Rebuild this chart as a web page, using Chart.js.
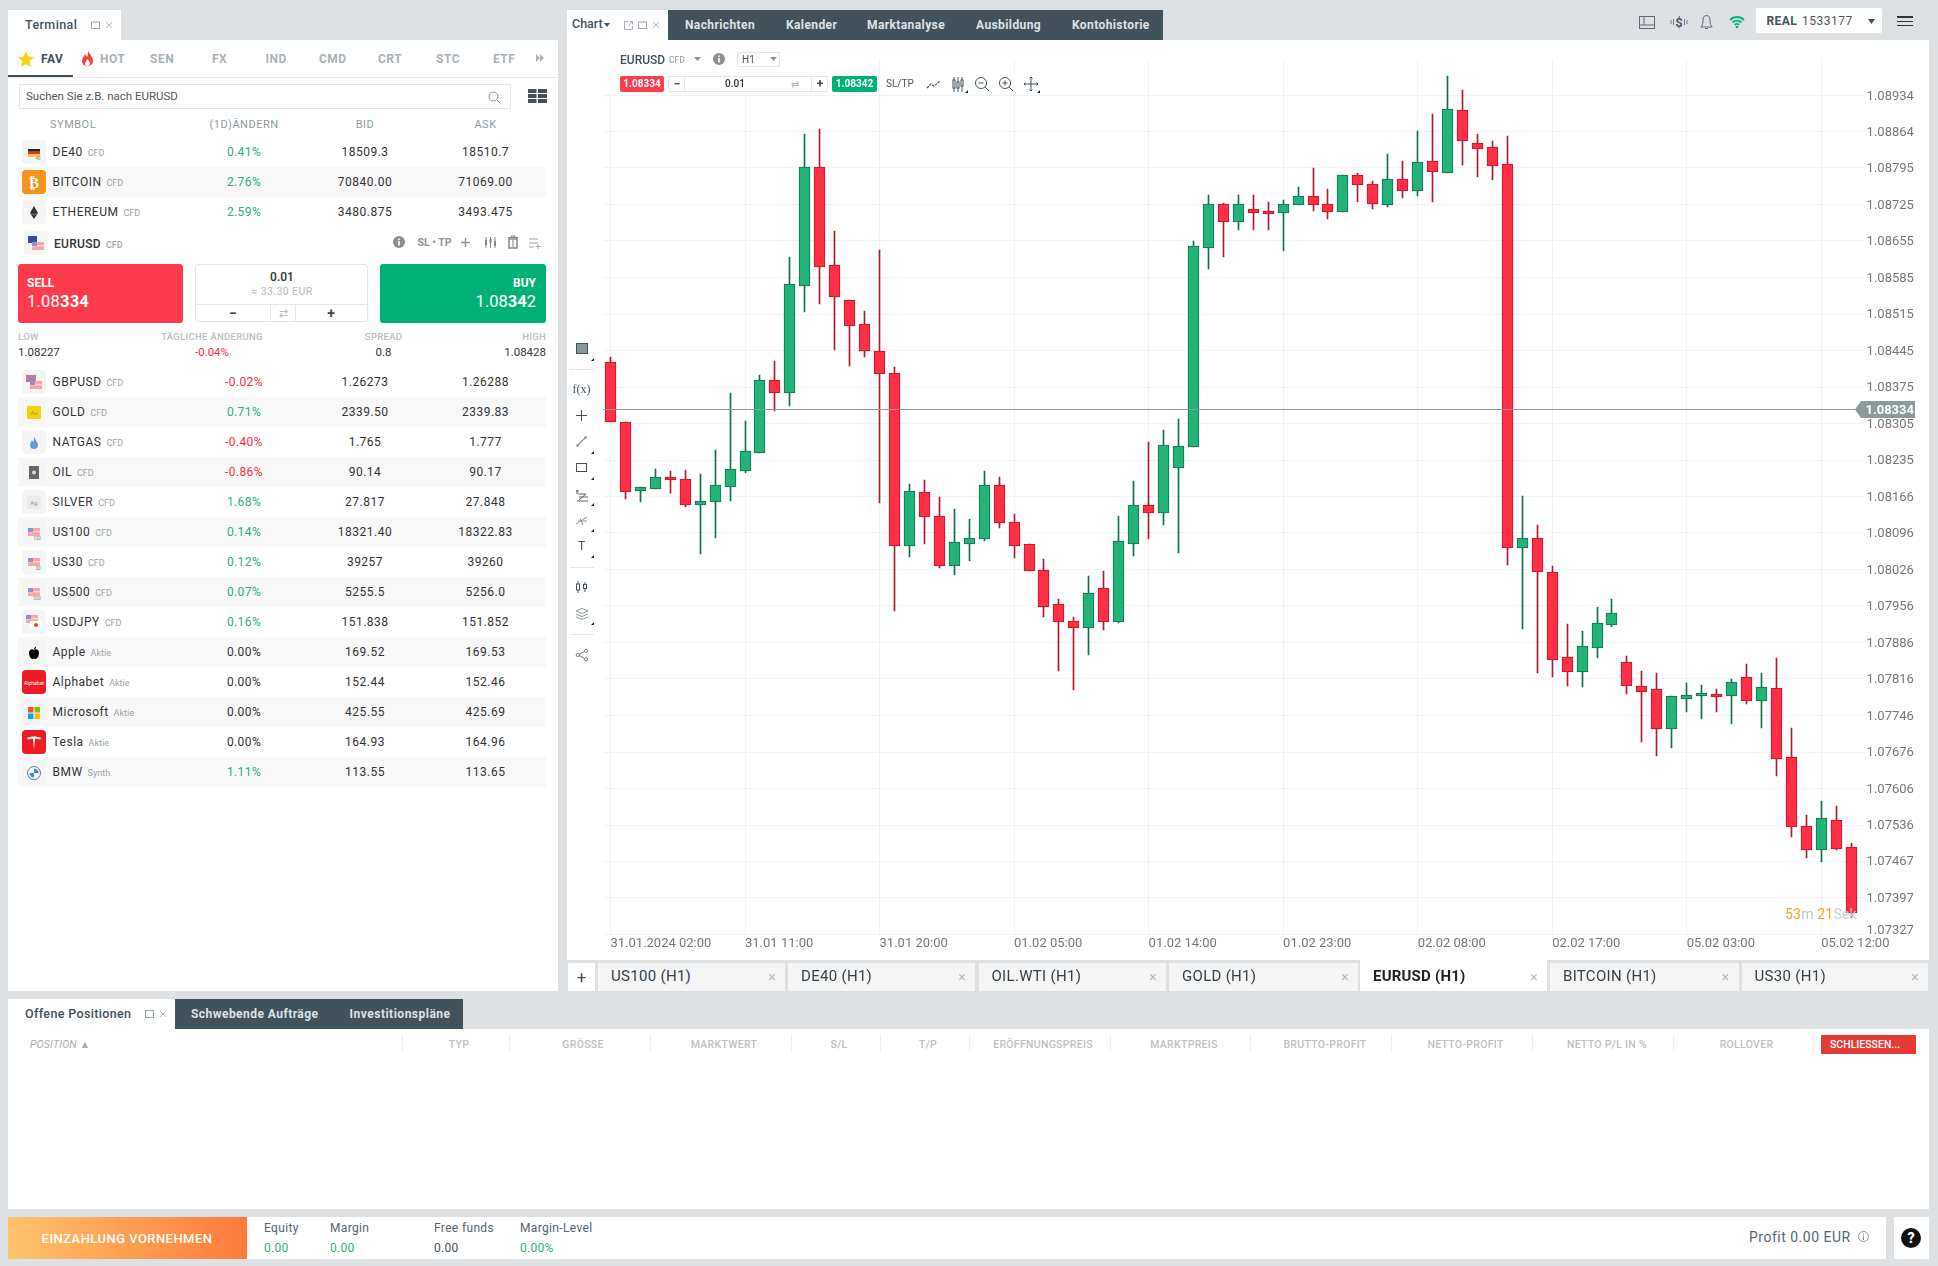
<!DOCTYPE html>
<html>
<head>
<meta charset="utf-8">
<title>EURUSD Terminal</title>
<script src="https://cdn.jsdelivr.net/npm/chart.js@4"></script>
<style>
html, body { margin: 0; padding: 0; background: #dde1e4; }
#root { position: relative; width: 1938px; height: 1266px; overflow: hidden; font-family: Roboto, sans-serif; color: #333; }
.t { position: absolute; white-space: nowrap; line-height: 1; }
.b { position: absolute; box-sizing: border-box; }
.tag { font-size: 9px; color: #9aa5aa; margin-left: 5px; letter-spacing: 0; }
svg { position: absolute; overflow: visible; }
canvas { position: absolute; left: 568px; top: 40px; }
</style>
</head>
<body>
<div id="root"></div>
<script>
// chart data
const categories = [
    "31.01 02:00","31.01 03:00","31.01 04:00","31.01 05:00","31.01 06:00","31.01 07:00","31.01 08:00","31.01 09:00","31.01 10:00","31.01 11:00","31.01 12:00",
    "31.01 13:00","31.01 14:00","31.01 15:00","31.01 16:00","31.01 17:00","31.01 18:00","31.01 19:00","31.01 20:00","31.01 21:00","31.01 22:00","31.01 23:00",
    "01.02 00:00","01.02 01:00","01.02 02:00","01.02 03:00","01.02 04:00","01.02 05:00","01.02 06:00","01.02 07:00","01.02 08:00","01.02 09:00","01.02 10:00","01.02 11:00",
    "01.02 12:00","01.02 13:00","01.02 14:00","01.02 15:00","01.02 16:00","01.02 17:00","01.02 18:00","01.02 19:00","01.02 20:00","01.02 21:00","01.02 22:00","01.02 23:00",
    "02.02 00:00","02.02 01:00","02.02 02:00","02.02 03:00","02.02 04:00","02.02 05:00","02.02 06:00","02.02 07:00","02.02 08:00","02.02 09:00","02.02 10:00","02.02 11:00",
    "02.02 12:00","02.02 13:00","02.02 14:00","02.02 15:00","02.02 16:00","02.02 17:00","02.02 18:00","02.02 19:00","02.02 20:00","02.02 21:00","02.02 22:00",
    "05.02 00:00","05.02 01:00","05.02 02:00","05.02 03:00","05.02 04:00","05.02 05:00","05.02 06:00","05.02 07:00","05.02 08:00","05.02 09:00","05.02 10:00","05.02 11:00",
    "05.02 12:00","05.02 13:00","05.02 14:00"
];
const opens = [
    1.08424,1.08308,1.08177,1.08180,1.08202,1.08199,1.08150,1.08155,1.08183,1.08215,1.08249,1.08388,1.08364,1.08569,
    1.08796,1.08608,1.08541,1.08495,1.08444,1.08403,1.08071,1.08175,1.08129,1.08033,1.08075,1.08085,1.08188,1.08116,
    1.08074,1.08024,1.07959,1.07928,1.07913,1.07990,1.07926,1.08075,1.08149,1.08133,1.08221,1.08260,1.08642,1.08725,
    1.08692,1.08716,1.08712,1.08709,1.08723,1.08741,1.08725,1.08711,1.08781,1.08765,1.08724,1.08773,1.08751,1.08808,
    1.08786,1.08905,1.08842,1.08834,1.08802,1.08067,1.08087,1.08020,1.07858,1.07830,1.07876,1.07920,1.07848,1.07802,
    1.07796,1.07721,1.07778,1.07784,1.07787,1.07784,1.07819,1.07774,1.07798,1.07666,1.07534,1.07489,1.07545,1.07494
];
const highs = [
    1.08432,1.08308,1.08183,1.08218,1.08214,1.08216,1.08209,1.08254,1.08363,1.08310,1.08398,1.08425,1.08624,1.08860,
    1.08869,1.08674,1.08541,1.08521,1.08638,1.08414,1.08189,1.08197,1.08165,1.08142,1.08122,1.08214,1.08203,1.08132,
    1.08074,1.08045,1.07969,1.07935,1.08013,1.08023,1.08128,1.08195,1.08270,1.08292,1.08314,1.08655,1.08743,1.08727,
    1.08743,1.08743,1.08730,1.08733,1.08758,1.08795,1.08755,1.08781,1.08785,1.08769,1.08822,1.08808,1.08866,1.08898,
    1.08971,1.08944,1.08860,1.08846,1.08856,1.08166,1.08111,1.08032,1.07921,1.07908,1.07954,1.07969,1.07860,1.07831,
    1.07827,1.07783,1.07808,1.07805,1.07797,1.07816,1.07845,1.07827,1.07856,1.07722,1.07555,1.07582,1.07573,1.07501
];
const lows = [
    1.08309,1.08160,1.08155,1.08179,1.08172,1.08146,1.08056,1.08086,1.08157,1.08211,1.08249,1.08330,1.08339,1.08519,
    1.08534,1.08446,1.08415,1.08433,1.08154,1.07946,1.08050,1.08075,1.08029,1.08015,1.08042,1.08081,1.08105,1.08048,
    1.08022,1.07935,1.07831,1.07795,1.07862,1.07910,1.07923,1.08051,1.08084,1.08111,1.08058,1.08260,1.08602,1.08624,
    1.08676,1.08676,1.08676,1.08636,1.08723,1.08712,1.08697,1.08711,1.08730,1.08716,1.08720,1.08737,1.08741,1.08730,
    1.08786,1.08800,1.08777,1.08772,1.08034,1.07912,1.07827,1.07820,1.07803,1.07801,1.07856,1.07916,1.07787,1.07695,
    1.07669,1.07684,1.07753,1.07739,1.07753,1.07730,1.07768,1.07722,1.07630,1.07513,1.07473,1.07465,1.07489,1.07358
];
const closes = [
    1.08309,1.08175,1.08183,1.08202,1.08198,1.08150,1.08156,1.08187,1.08218,1.08252,1.08388,1.08364,1.08572,1.08796,
    1.08606,1.08548,1.08493,1.08445,1.08401,1.08070,1.08177,1.08127,1.08033,1.08078,1.08087,1.08188,1.08114,1.08071,
    1.08022,1.07954,1.07926,1.07913,1.07980,1.07926,1.08080,1.08149,1.08133,1.08265,1.08262,1.08645,1.08725,1.08692,
    1.08725,1.08709,1.08707,1.08725,1.08742,1.08723,1.08711,1.08781,1.08763,1.08726,1.08773,1.08751,1.08806,1.08788,
    1.08907,1.08847,1.08832,1.08799,1.08067,1.08087,1.08020,1.07853,1.07830,1.07879,1.07923,1.07942,1.07803,1.07792,
    1.07721,1.07783,1.07785,1.07789,1.07782,1.07810,1.07774,1.07800,1.07663,1.07533,1.07489,1.07549,1.07491,1.07367
];
const yTicks = [1.08934,1.08864,1.08795,1.08725,1.08655,1.08585,1.08515,1.08445,1.08375,1.08305,1.08235,1.08166,1.08096,1.08026,1.07956,1.07886,1.07816,1.07746,1.07676,1.07606,1.07536,1.07467,1.07397,1.07327];
const xTickLabels = ["31.01.2024 02:00","31.01 11:00","31.01 20:00","01.02 05:00","01.02 14:00","01.02 23:00","02.02 08:00","02.02 17:00","05.02 03:00","05.02 12:00"];
const currentPrice = 1.08334;

// watchlist data
const topSymbols = ["DE40","BITCOIN","ETHEREUM"];
const topChanges = ["0.41%","2.76%","2.59%"];
const topBids = ["18509.3","70840.00","3480.875"];
const topAsks = ["18510.7","71069.00","3493.475"];
const symbols = ["GBPUSD","GOLD","NATGAS","OIL","SILVER","US100","US30","US500","USDJPY","Apple","Alphabet","Microsoft","Tesla","BMW"];
const kinds = ["CFD","CFD","CFD","CFD","CFD","CFD","CFD","CFD","CFD","Aktie","Aktie","Aktie","Aktie","Synth."];
const changes = ["-0.02%","0.71%","-0.40%","-0.86%","1.68%","0.14%","0.12%","0.07%","0.16%","0.00%","0.00%","0.00%","0.00%","1.11%"];
const bids = ["1.26273","2339.50","1.765","90.14","27.817","18321.40","39257","5255.5","151.838","169.52","152.44","425.55","164.93","113.55"];
const asks = ["1.26288","2339.83","1.777","90.17","27.848","18322.83","39260","5256.0","151.852","169.53","152.46","425.69","164.96","113.65"];

const root = document.getElementById("root");

function box(x, y, w, h, css, html) {
    const el = document.createElement("div");
    el.className = "b";
    el.style.cssText = `left:${x}px;top:${y}px;width:${w}px;height:${h}px;${css || ""}`;
    if (html) el.innerHTML = html;
    root.appendChild(el);
    return el;
}

function txt(x, y, s, css, anchor) {
    const el = document.createElement("div");
    el.className = "t";
    const tx = anchor === "c" ? "-50%" : anchor === "r" ? "-100%" : "0";
    el.style.cssText = `left:${x}px;top:${y}px;transform:translate(${tx},-50%);${css || ""}`;
    el.innerHTML = s;
    root.appendChild(el);
    return el;
}

function icon(x, y, w, h, inner) {
    const ns = "http://www.w3.org/2000/svg";
    const el = document.createElementNS(ns, "svg");
    el.setAttribute("width", w);
    el.setAttribute("height", h);
    el.setAttribute("viewBox", `0 0 ${w} ${h}`);
    el.style.left = (x - w / 2) + "px";
    el.style.top = (y - h / 2) + "px";
    el.innerHTML = inner;
    root.appendChild(el);
}

// tiny corner triangle next to tools with a submenu
function corner(x, y) {
    icon(x, y, 3, 3, '<path d="M3 0V3H0Z" fill="#222"/>');
}

// panels
box(8, 10, 113, 30, "background:#fff");
box(8, 40, 550, 951, "background:#fff");
box(567, 10, 101, 30, "background:#fff");
box(668, 10, 495, 30, "background:#41525b");
box(567, 40, 1362, 920, "background:#fff");
box(8, 999, 167, 30, "background:#fff");
box(175, 999, 288, 30, "background:#41525b");
box(8, 1029, 1921, 180, "background:#fff");
box(8, 1217, 239, 42, "background:linear-gradient(90deg,#ffc36a,#ff7a3a)");
box(247, 1217, 1639, 42, "background:#fff");
box(1894, 1217, 35, 42, "background:#fff");

// left panel
txt(25, 25, "Terminal", "font-size:12.5px;font-weight:500;color:#41525b;letter-spacing:.4px");
icon(95.5, 25, 9, 8, '<rect x=".5" y="1" width="8" height="6.5" fill="none" stroke="#9aa"/>');
icon(109, 25, 8, 8, '<path d="M1 1L7 7M7 1L1 7" stroke="#bbb"/>');
icon(26, 59, 16, 16, '<polygon points="8,0 10.4,5.4 16,6.1 11.8,10 13,16 8,12.9 3,16 4.2,10 0,6.1 5.6,5.4" fill="#f7d21b"/>');
icon(87, 58, 11, 16, '<path d="M6 0C7 4 11 6 11 11C11 14 8.5 16 5.5 16C2.5 16 0 14 0 11C0 8 2 6.5 3 4C4 6 4.5 6.5 5 7C6 5 6.5 3 6 0Z" fill="#f4433c"/><path d="M5.5 9C7 11 8 12 8 13.5C8 15 6.5 16 5.5 16C4 16 3 15 3 13.5C3 12 4.5 11 5.5 9Z" fill="#fff"/>');
txt(41, 59, "FAV", "font-size:12px;font-weight:700;color:#41525b;letter-spacing:.5px");
const tabNames = ["HOT","SEN","FX","IND","CMD","CRT","STC","ETF"];
const tabXs = [100,150,212,265.5,319,378,436,493];
tabNames.forEach((n, i) => txt(tabXs[i], 59, n, "font-size:12px;font-weight:700;color:#a9b2b6;letter-spacing:.5px"));
icon(540, 58, 8, 8, '<path d="M0 0L4 4L0 8ZM4 0L8 4L4 8Z" fill="#a9b2b6"/>');
box(8, 77, 550, 1, "background:#e3e6e8");
box(8, 75, 65, 2, "background:#41525b");
box(19, 84, 492, 25, "border:1px solid #e4e6e8;background:#fff");
txt(26, 96.5, "Suchen Sie z.B. nach EURUSD", "font-size:11.5px;color:#555");
icon(494.5, 97, 13, 13, '<circle cx="5.5" cy="5.5" r="4.5" fill="none" stroke="#8a969b"/><path d="M9 9L12.5 12.5" stroke="#8a969b"/>');
icon(537.5, 96, 19, 14, '<path d="M0 0H8.5V4H0ZM10 0H19V4H10ZM0 5H8.5V9H0ZM10 5H19V9H10ZM0 10H8.5V14H0ZM10 10H19V14H10Z" fill="#41525b"/>');
txt(50, 124, "SYMBOL", "font-size:11px;color:#8f9a9f;letter-spacing:.5px");
txt(244, 124, "(1D)ÄNDERN", "font-size:11px;color:#8f9a9f;letter-spacing:.5px", "c");
txt(365, 124, "BID", "font-size:11px;color:#8f9a9f;letter-spacing:.5px", "c");
txt(485.5, 124, "ASK", "font-size:11px;color:#8f9a9f;letter-spacing:.5px", "c");

function symbolIcon(sym, x, y) {
    const filled = { BITCOIN: "#f7931a", Alphabet: "#ed1c24", Tesla: "#ed1c24" };
    box(x, y - 12, 24, 24, `background:${filled[sym] || "#f5f5f6"};border-radius:4px`);
    const cx = x + 12;
    const usFlag = (fx, fy) => `<rect x="${fx}" y="${fy}" width="12" height="8" fill="#f9a4a8"/><rect x="${fx}" y="${fy + 3}" width="12" height="1.4" fill="#fbd6d8"/><rect x="${fx}" y="${fy}" width="5" height="4" fill="#8c93c8"/>`;
    const art = {
        DE40: '<rect x="0" y="1" width="12" height="2.7" fill="#222"/><rect x="0" y="3.7" width="12" height="2.7" fill="#e8332a"/><rect x="0" y="6.4" width="12" height="2.7" fill="#f9d12a"/><text x="10" y="12" text-anchor="middle" font-size="4.5" fill="#888">40</text>',
        BITCOIN: '<text x="6" y="10" text-anchor="middle" font-size="15" font-weight="700" font-family="Roboto" fill="#fff">₿</text>',
        ETHEREUM: '<polygon points="6,-2 10,5 6,11 2,5" fill="#333"/><path d="M2 5L6 7L10 5" stroke="#aaa" fill="none" stroke-width=".6"/>',
        EURUSD: '<rect x="-2" y="-3" width="9" height="7" fill="#3b4aa6"/>' + usFlag(2, 3),
        GBPUSD: '<rect x="-2" y="-3" width="10" height="7" fill="#8c93c8"/><path d="M-2 -3L8 4M8 -3L-2 4" stroke="#e66" stroke-width="1.2"/>' + usFlag(2, 3),
        GOLD: '<rect x="-1" y="-2" width="14" height="13" rx="1" fill="#f5d00f"/><text x="6" y="7" text-anchor="middle" font-size="6" fill="#b8940a">Au</text>',
        NATGAS: '<path d="M6 -2C7 2 10 4 10 7C10 10 8 11 6 11C4 11 2 10 2 7C2 5 3 4 4 2C4.500 3 5 3.500 5.500 4C6 2 6.300 0 6 -2Z" fill="#6c93e0"/>',
        OIL: '<rect x="1" y="-2" width="10" height="13" fill="#666"/><circle cx="6" cy="4.500" r="2" fill="#ddd"/>',
        SILVER: '<rect x="-1" y="-2" width="14" height="13" rx="1" fill="#ebebeb"/><text x="6" y="7" text-anchor="middle" font-size="6" fill="#999">Ag</text>',
        US100: usFlag(0, 0) + '<text x="9" y="12" text-anchor="middle" font-size="4.500" fill="#888">100</text>',
        US30: usFlag(0, 0) + '<text x="10" y="12" text-anchor="middle" font-size="4.500" fill="#888">30</text>',
        US500: usFlag(0, 0) + '<text x="9" y="12" text-anchor="middle" font-size="4.500" fill="#888">500</text>',
        USDJPY: usFlag(-2, -3) + '<rect x="2" y="3" width="12" height="8" fill="#fff"/><circle cx="8" cy="7" r="2" fill="#f33"/>',
        Apple: '<path d="M6 2C4 .5 1 1.500 1 5C1 8 3 11 4.500 11C5.200 11 5.500 10.500 6 10.500C6.500 10.500 6.800 11 7.500 11C9 11 11 8 11 5C11 1.500 8 .5 6 2ZM6 1.500C6 0 7 -1 8 -1.500C8.300 0 7.500 1.200 6 1.500Z" fill="#000"/>',
        Alphabet: '<text x="6" y="6.500" text-anchor="middle" font-size="5" fill="#fff">Alphabet</text>',
        Microsoft: '<rect x="0" y="-1" width="5.500" height="5.500" fill="#f35325"/><rect x="6.500" y="-1" width="5.500" height="5.500" fill="#81bc06"/><rect x="0" y="5.500" width="5.500" height="5.500" fill="#05a6f0"/><rect x="6.500" y="5.500" width="5.500" height="5.500" fill="#ffba08"/>',
        Tesla: '<path d="M-1 0C3 -2 9 -2 13 0L12 1.500C10 1 8.500 .8 7 .7L6 12L5 .7C3.500 .8 2 1 0 1.500Z" fill="#fff"/>',
        BMW: '<circle cx="6" cy="5" r="6.500" fill="#fff" stroke="#456" stroke-width=".8"/><path d="M6 5V0.500A4.500 4.500 0 0 1 10.500 5ZM6 5V9.500A4.500 4.500 0 0 1 1.500 5Z" fill="#3a8fd6"/>'
    };
    icon(cx, y, 12, 9, `<g>${art[sym] || ""}</g>`);
}

function nameHtml(name, kind) {
    return `${name}<span class="tag">${kind}</span>`;
}

function drawRow(sym, kind, chg, bid, ask, y, stripe) {
    if (stripe) box(18, y - 15, 528, 30, "background:#f8f8f8");
    symbolIcon(sym, 22, y);
    txt(52.5, y, nameHtml(sym, kind), "font-size:12px;color:#333;letter-spacing:.5px");
    const color = chg.startsWith("-") ? "#ff2a3a" : chg === "0.00%" ? "#333" : "#25b07c";
    txt(244, y, chg, `font-size:12px;letter-spacing:.4px;color:${color}`, "c");
    txt(365, y, bid, "font-size:12px;letter-spacing:.5px;color:#333", "c");
    txt(485.5, y, ask, "font-size:12px;letter-spacing:.5px;color:#333", "c");
}

topSymbols.forEach((s, i) => drawRow(s, "CFD", topChanges[i], topBids[i], topAsks[i], 152 + i * 30, i === 1));
symbols.forEach((s, i) => drawRow(s, kinds[i], changes[i], bids[i], asks[i], 382 + i * 30, i % 2 === 1));

// eurusd trade box
symbolIcon("EURUSD", 24, 243);
txt(54, 243.5, nameHtml("EURUSD", "CFD"), "font-size:12px;font-weight:500;color:#333;letter-spacing:.3px");
icon(399, 242, 12, 12, '<circle cx="6" cy="6" r="6" fill="#8a8f92"/><rect x="5.200" y="5" width="1.600" height="4.500" fill="#fff"/><rect x="5.200" y="2.500" width="1.600" height="1.600" fill="#fff"/>');
txt(417.5, 242.5, "SL • TP", "font-size:10.5px;font-weight:700;color:#8a969b");
icon(465, 242, 9, 9, '<path d="M4.500 0V9M0 4.500H9" stroke="#8a969b" stroke-width="1.500"/>');
icon(490, 242, 13, 11, '<path d="M2 0V11M6.500 0V11M11 0V11" stroke="#7d898e"/><rect x="1" y="3" width="2" height="5" fill="#7d898e"/><rect x="5.500" y="2" width="2" height="4" fill="#7d898e"/><rect x="10" y="4" width="2" height="5" fill="#7d898e"/>');
icon(513, 242, 10, 12, '<path d="M0 1.500H10M3 1.500V0H7V1.500" stroke="#7d898e" fill="none"/><path d="M1 3H9V12H1Z" fill="none" stroke="#7d898e" stroke-width="1.500"/><path d="M5 4V11" stroke="#7d898e"/>');
icon(535, 243, 12, 11, '<path d="M0 1H9M0 5H9M0 9H5M9 6V11M6.500 8.500H12" stroke="#9aa5aa"/>');

box(18, 264, 165, 59, "background:#fc3b4d;border-radius:3px");
txt(27, 282.5, "SELL", "font-size:12px;font-weight:700;color:#fff");
txt(27, 302, "1.08<b>334</b>", "font-size:16.5px;color:#fff;letter-spacing:.2px");
box(195, 264, 173, 58, "border:1px solid #e4e6e8;border-radius:3px;background:#fff");
txt(282, 277, "0.01", "font-size:12px;font-weight:500;color:#333", "c");
txt(282, 292, "≈ 33.30 EUR", "font-size:10.5px;color:#b6bcc0;letter-spacing:.4px", "c");
box(195, 304, 173, 1, "background:#e4e6e8");
box(270, 304, 1, 18, "background:#e4e6e8");
box(294.5, 304, 1, 18, "background:#e4e6e8");
txt(233, 313, "−", "font-size:14px;font-weight:700;color:#444", "c");
txt(283, 313, "⇄", "font-size:11px;color:#b6bcc0", "c");
txt(331, 313, "+", "font-size:14px;font-weight:700;color:#444", "c");
box(380, 264, 166, 59, "background:#00b176;border-radius:3px");
txt(536, 282.5, "BUY", "font-size:12px;font-weight:700;color:#fff", "r");
txt(536, 302, "1.08<b>34</b>2", "font-size:16.5px;color:#fff;letter-spacing:0", "r");

const smallHead = "font-size:9.5px;font-weight:500;color:#bcc0c3;letter-spacing:.3px";
txt(18, 337, "LOW", smallHead);
txt(212, 337, "TÄGLICHE ÄNDERUNG", smallHead, "c");
txt(383.6, 337, "SPREAD", smallHead, "c");
txt(546, 337, "HIGH", smallHead, "r");
txt(18, 353, "1.08227", "font-size:11.5px;color:#333");
txt(212, 353, "-0.04%", "font-size:11.5px;color:#ff2a3a", "c");
txt(383.6, 353, "0.8", "font-size:11.5px;color:#333", "c");
txt(546, 353, "1.08428", "font-size:11.5px;color:#333", "r");

// canvas sits above the panels
const canvas = document.createElement("canvas");
canvas.width = 1348;
canvas.height = 930;
canvas.style.width = "1348px";
canvas.style.height = "930px";
root.appendChild(canvas);

const upFill = "#23b277", downFill = "#ff3045";
const upEdge = "#0f7050", downEdge = "#b5182e";
const isUp = closes.map((c, i) => c >= opens[i]);
const lastTick = yTicks[yTicks.length - 1];

// snap bars to whole pixels so the wicks stay one pixel wide
const snapBars = {
    id: "snapBars",
    beforeDatasetDraw(chart, args) {
        chart.getDatasetMeta(args.index).data.forEach(b => {
            b.x = Math.floor(b.x) + 0.5;
            b.y = Math.round(b.y);
            b.base = Math.round(b.base);
        });
    }
};

const priceLine = {
    id: "priceLine",
    afterDatasetsDraw(chart) {
        const { ctx, chartArea, scales } = chart;
        const y = Math.round(scales.y.getPixelForValue(currentPrice)) + 0.5;
        const tip = 1855 - 568, right = 1915 - 568, left = 1861 - 568;
        ctx.save();
        ctx.strokeStyle = "#8c9a9c";
        ctx.lineWidth = 1;
        ctx.beginPath();
        ctx.moveTo(chartArea.left, y);
        ctx.lineTo(tip, y);
        ctx.stroke();
        ctx.fillStyle = "#8c9a9c";
        ctx.beginPath();
        ctx.moveTo(tip, y);
        ctx.lineTo(left, y - 8.5);
        ctx.lineTo(right, y - 8.5);
        ctx.lineTo(right, y + 8.5);
        ctx.lineTo(left, y + 8.5);
        ctx.closePath();
        ctx.fill();
        ctx.fillStyle = "#fff";
        ctx.font = "700 13px Roboto";
        ctx.textBaseline = "middle";
        ctx.textAlign = "right";
        ctx.fillText(currentPrice.toFixed(5), right - 1, y + 1);
        // the bottom tick label sits a little above its grid line
        ctx.fillStyle = "#777";
        ctx.font = "13px Roboto";
        ctx.textAlign = "left";
        ctx.fillText(lastTick.toFixed(5), scales.y.left + 8, scales.y.getPixelForValue(lastTick) - 4);
        ctx.restore();
    }
};

new Chart(canvas.getContext("2d"), {
    type: "bar",
    plugins: [snapBars, priceLine],
    data: {
        labels: categories,
        datasets: [
            {
                label: "Wick",
                data: lows.map((l, i) => [l, highs[i]]),
                backgroundColor: isUp.map(u => u ? upEdge : downEdge),
                barThickness: 1,
                grouped: false,
                order: 2
            },
            {
                label: "Body",
                data: opens.map((o, i) => [o, closes[i]]),
                backgroundColor: isUp.map(u => u ? upFill : downFill),
                borderColor: isUp.map(u => u ? upEdge : downEdge),
                borderWidth: 1,
                borderSkipped: false,
                barThickness: 11,
                grouped: false,
                order: 1
            }
        ]
    },
    options: {
        responsive: false,
        animation: false,
        events: [],
        layout: { padding: { left: 35, top: 19, right: 0, bottom: 0 } },
        plugins: { legend: { display: false }, tooltip: { enabled: false } },
        scales: {
            x: {
                type: "category",
                offset: true,
                afterBuildTicks: axis => { axis.ticks = axis.ticks.filter(t => t.value % 9 === 0); },
                afterFit: axis => { axis.height = 35.7; },
                border: { display: false },
                grid: { offset: false, color: "#f1f3f4", drawTicks: false },
                ticks: {
                    autoSkip: false,
                    maxRotation: 0,
                    align: "start",
                    padding: 2,
                    color: "#777",
                    font: { family: "Roboto", size: 13 },
                    callback: value => xTickLabels[value / 9]
                }
            },
            y: {
                position: "right",
                min: 1.07327,
                max: 1.090035,
                afterBuildTicks: axis => { axis.ticks = yTicks.map(v => ({ value: v })); },
                afterFit: axis => { axis.width = 57.4; },
                border: { display: false },
                grid: { color: "#f1f3f4", tickColor: "#f1f3f4", tickLength: 6 },
                ticks: {
                    autoSkip: false,
                    padding: 2,
                    labelOffset: 1,
                    color: "#777",
                    font: { family: "Roboto", size: 13 },
                    callback: value => value === lastTick ? "" : value.toFixed(5)
                }
            }
        }
    }
});

// chart header
txt(572, 23.5, "Chart", "font-size:12.5px;font-weight:500;color:#41525b");
icon(607, 25, 6, 4, '<path d="M0 0H6L3 4Z" fill="#41525b"/>');
icon(628.5, 25, 9, 9, '<path d="M4 .5H.5V8.500H8.500V5M4 5L8.500 .5M5.500 .5H8.500V3.500" fill="none" stroke="#aab"/>');
icon(642.5, 25, 9, 8, '<rect x=".5" y="1" width="8" height="6.500" fill="none" stroke="#9aa"/>');
icon(656, 25, 8, 8, '<path d="M1 1L7 7M7 1L1 7" stroke="#bbb"/>');
const navLabels = ["Nachrichten","Kalender","Marktanalyse","Ausbildung","Kontohistorie"];
const navXs = [685,786,867,976,1072];
navLabels.forEach((n, i) => txt(navXs[i], 24.5, n, "font-size:12px;font-weight:700;color:#dfe3e5;letter-spacing:.4px"));

icon(1647, 22, 16, 13, '<rect x=".5" y=".5" width="15" height="12" fill="none" stroke="#667"/><path d="M5 .5V9H15.500M.5 9H5" fill="none" stroke="#667"/>');
txt(1679, 22, "<b>$</b>", "font-size:13px;color:#556", "c");
icon(1679, 22, 18, 8, '<path d="M1 2V6M3.500 1V7M14.500 1V7M17 2V6" stroke="#778"/>');
icon(1706, 22, 13, 15, '<path d="M6.500 .5C3.500 .5 3 3 3 6C3 9 2 11 .8 12H12.200C11 11 10 9 10 6C10 3 9.500 .5 6.500 .5ZM5 13.500H8" fill="none" stroke="#667"/>');
icon(1737, 22, 16, 12, '<path d="M1 4C5 0 11 0 15 4M3.500 6.500C6 4 10 4 12.500 6.500M5.800 8.800C7 7.500 9 7.500 10.200 8.800" fill="none" stroke="#05b377" stroke-width="1.800"/><circle cx="8" cy="11" r="1.300" fill="#05b377"/>');
box(1756, 8, 126, 25, "background:#fff;border-radius:2px");
txt(1766.5, 20.5, "REAL", "font-size:12px;font-weight:700;color:#41525b;letter-spacing:.4px");
txt(1802, 20.5, "1533177", "font-size:12px;color:#555;letter-spacing:.5px");
icon(1871, 21, 7, 5, '<path d="M0 0H7L3.500 5Z" fill="#41525b"/>');
box(1897, 16, 16, 1.5, "background:#333");
box(1897, 20.5, 16, 1.5, "background:#333");
box(1897, 24.5, 16, 1.5, "background:#333");

// chart toolbar overlays the grid
box(603, 45, 179, 28, "background:#fff");
box(603, 73, 444, 22, "background:#fff");
txt(620, 59.5, "EURUSD", "font-size:12px;font-weight:500;color:#41525b");
txt(669, 60, "CFD", "font-size:8.5px;color:#8a969b");
icon(697, 59, 7, 4, '<path d="M0 0H7L3.500 4Z" fill="#8a969b"/>');
icon(719, 59, 12, 12, '<circle cx="6" cy="6" r="6" fill="#8a8f92"/><rect x="5.200" y="5" width="1.600" height="4.500" fill="#fff"/><rect x="5.200" y="2.500" width="1.600" height="1.600" fill="#fff"/>');
box(737, 52, 43, 15, "border:1px solid #e4e6e8;background:#fff");
txt(742, 60, "H1", "font-size:10px;color:#555");
icon(773, 59, 7, 4, '<path d="M0 0H7L3.500 4Z" fill="#8a969b"/>');
box(620, 76, 44, 16, "background:#fc3b4d;border-radius:2px");
txt(642, 84, "1.08334", "font-size:10px;font-weight:700;color:#fff", "c");
box(668, 76, 160, 16, "border:1px solid #e4e6e8;background:#fff");
box(684, 76, 1, 16, "background:#e4e6e8");
box(811, 76, 1, 16, "background:#e4e6e8");
txt(677, 84, "−", "font-size:12px;font-weight:700;color:#444", "c");
txt(735, 84, "0.01", "font-size:10px;font-weight:500;color:#333", "c");
txt(795, 85, "⇄", "font-size:10px;color:#b6bcc0", "c");
txt(820, 84, "+", "font-size:12px;font-weight:700;color:#444", "c");
box(832, 76, 45, 16, "background:#00b176;border-radius:2px");
txt(854.5, 84, "1.08342", "font-size:10px;font-weight:700;color:#fff", "c");
txt(886, 84, "SL/TP", "font-size:10px;color:#556");
icon(934, 84, 14, 9, '<path d="M0 8L4 4L7 6L13 1" fill="none" stroke="#41525b" stroke-dasharray="2.500 1" stroke-width="1.200"/>');
icon(958, 84, 12, 15, '<path d="M2 0V15M6 0V15M10 0V15" stroke="#41525b"/><rect x="1" y="3" width="2" height="8" fill="#fff" stroke="#41525b"/><rect x="5" y="5" width="2" height="6" fill="#fff" stroke="#41525b"/><rect x="9" y="3" width="2" height="6" fill="#fff" stroke="#41525b"/>');
corner(966.5, 91.5);
const zoomGlass = sym => `<circle cx="6" cy="6" r="5.500" fill="none" stroke="#41525b"/><path d="M10 10L14 14" stroke="#41525b"/><path d="${sym}" stroke="#41525b"/>`;
icon(981.5, 84, 14, 14, zoomGlass("M3.500 6H8.500"));
icon(1006, 84, 14, 14, zoomGlass("M3.500 6H8.500M6 3.500V8.500"));
icon(1030.5, 84, 14, 14, '<path d="M7 0V14M0 7H14M5.500 1.500L7 0L8.500 1.500M5.500 12.500L7 14L8.500 12.500M1.500 5.500L0 7L1.500 8.500M12.500 5.500L14 7L12.500 8.500" fill="none" stroke="#41525b"/>');
corner(1038.5, 91.5);

// left chart tools
icon(581.5, 348, 12, 11, '<rect x=".5" y=".5" width="11" height="10" fill="#8a969b" stroke="#41525b"/>');
corner(592.5, 359.5);
box(570, 369, 24, 1, "background:#e3e6e8");
txt(581.5, 389, "f(x)", "font-family:'Liberation Serif',serif;font-size:12px;color:#41525b", "c");
icon(581.5, 415, 11, 11, '<path d="M5.500 0V11M0 5.500H11" stroke="#41525b"/>');
icon(581.5, 441, 11, 11, '<path d="M1 10L10 1" stroke="#8a969b" stroke-width="1.200"/><circle cx="1.500" cy="9.500" r="1.300" fill="#8a969b"/><circle cx="9.500" cy="1.500" r="1.300" fill="#8a969b"/>');
corner(592.5, 452.5);
icon(581.5, 467, 11, 9, '<rect x=".5" y=".5" width="10" height="8" fill="none" stroke="#41525b"/>');
corner(592.5, 478.5);
icon(581.5, 495, 12, 11, '<path d="M1 0V4M0 1H3M3 10L10 4H2M3 7H12M1 11H12" fill="none" stroke="#41525b" stroke-width=".9"/>');
corner(592.5, 504.5);
icon(581.5, 520, 11, 9, '<path d="M0 8L11 1M2 5H11M4 2L7 9" fill="none" stroke="#8a969b"/>');
corner(592.5, 530.5);
txt(581.5, 546, "T", "font-size:12px;color:#41525b", "c");
corner(592.5, 556.5);
box(570, 566.5, 24, 1, "background:#e3e6e8");
icon(581.5, 587, 12, 12, '<path d="M2 0V12M9 1V11" stroke="#41525b"/><rect x=".5" y="3" width="3" height="6" fill="#fff" stroke="#41525b"/><rect x="7.500" y="3.500" width="3" height="4" fill="#fff" stroke="#41525b"/>');
icon(581.5, 613.5, 12, 12, '<path d="M6 .5L12 3L6 5.500L0 3ZM0 6L6 8.500L12 6M0 9L6 11.500L12 9" fill="none" stroke="#8a969b"/>');
corner(592.5, 623);
box(570, 633.5, 24, 1, "background:#e3e6e8");
icon(581.5, 654.5, 12, 12, '<circle cx="1.800" cy="6" r="1.600" fill="none" stroke="#778"/><circle cx="10" cy="1.800" r="1.600" fill="none" stroke="#778"/><circle cx="10" cy="10.200" r="1.600" fill="none" stroke="#778"/><path d="M3.200 5.300L8.600 2.600M3.200 6.700L8.600 9.400" stroke="#778"/>');

// countdown
txt(1785, 914, '<span style="color:#ff9d1e">53</span><span style="color:#bfc4c7">m </span><span style="color:#ff9d1e">21</span><span style="color:#c8ccce">Sek</span>', "font-size:14px;letter-spacing:.2px");

// instrument tabs
box(567.5, 963, 27.5, 28, "background:#fff");
txt(581.5, 977, "+", "font-size:17px;color:#41525b", "c");
const chartTabs = ["US100 (H1)","DE40 (H1)","OIL.WTI (H1)","GOLD (H1)","EURUSD (H1)","BITCOIN (H1)","US30 (H1)"];
const tabLefts = [598,788,978.5,1169,1360,1550,1741.5];
const tabRights = [785,975,1166,1358,1547,1738.5,1928];
chartTabs.forEach((n, i) => {
    const active = i === 4;
    const top = active ? 960 : 963;
    box(tabLefts[i], top, tabRights[i] - tabLefts[i], 991 - top, `background:${active ? "#fff" : "#f5f5f6"}`);
    txt(tabLefts[i] + 13, 976, n, `font-size:15px;letter-spacing:.3px;color:#33424b;${active ? "font-weight:700;color:#222;letter-spacing:.2px" : ""}`);
    txt(tabRights[i] - 13, 977, "×", "font-size:14px;color:#b9bdc0", "c");
});

// positions panel
txt(25, 1013.5, "Offene Positionen", "font-size:12.5px;font-weight:500;color:#41525b;letter-spacing:.35px");
icon(149, 1014, 9, 8, '<rect x=".5" y=".5" width="8" height="7" fill="none" stroke="#9aa"/>');
icon(163, 1014, 8, 8, '<path d="M1 1L7 7M7 1L1 7" stroke="#bbb"/>');
txt(191, 1013.5, "Schwebende Aufträge", "font-size:12px;font-weight:700;color:#dfe3e5;letter-spacing:.45px");
txt(349.5, 1013.5, "Investitionspläne", "font-size:12px;font-weight:700;color:#dfe3e5;letter-spacing:.5px");

const colLabels = ["TYP","GRÖSSE","MARKTWERT","S/L","T/P","ERÖFFNUNGSPREIS","MARKTPREIS","BRUTTO-PROFIT","NETTO-PROFIT","NETTO P/L IN %","ROLLOVER"];
const colCenters = [459,583,724,839,928,1043,1184,1325,1465.5,1607,1746.5];
const colLines = [402,509,650,791,880,968.5,1110,1250,1391,1532,1673,1813];
const headCss = "font-size:10.5px;font-weight:500;color:#bcc0c3;letter-spacing:.3px";
txt(30, 1044.5, "<i>POSITION</i> ▲", "font-size:10.5px;color:#a9aeb1;letter-spacing:.2px");
colLabels.forEach((n, i) => txt(colCenters[i], 1044.5, n, headCss, "c"));
colLines.forEach(x => box(x, 1035, 1, 16, "background:#eceeef"));
box(1821, 1035, 95, 19, "background:#e53935;border-radius:1px");
txt(1830, 1044.5, "SCHLIESSEN...", "font-size:10.5px;font-weight:500;color:#fff");

// footer
txt(127, 1238, "EINZAHLUNG VORNEHMEN", "font-size:13px;font-weight:500;color:#fff;letter-spacing:.45px", "c");
const footLabels = ["Equity","Margin","Free funds","Margin-Level"];
const footValues = ["0.00","0.00","0.00","0.00%"];
const footColors = ["#25b07c","#25b07c","#41525b","#25b07c"];
const footXs = [264,330,434,520];
footLabels.forEach((n, i) => {
    txt(footXs[i], 1227.5, n, "font-size:12px;color:#556570;letter-spacing:.35px");
    txt(footXs[i], 1247.5, footValues[i], `font-size:12px;letter-spacing:.3px;color:${footColors[i]}`);
});
txt(1749, 1237, "Profit 0.00 EUR", "font-size:14px;color:#556570;letter-spacing:.5px");
icon(1863.5, 1236, 11, 11, '<circle cx="5.500" cy="5.500" r="5" fill="none" stroke="#8a969b"/><path d="M5.500 4.500V9M5.500 2.500V3.500" stroke="#8a969b"/>');
icon(1911, 1238, 20, 20, '<circle cx="10" cy="10" r="10" fill="#111"/>');
txt(1911, 1238, "?", "font-size:14px;font-weight:900;color:#fff", "c");
</script>
</body>
</html>
